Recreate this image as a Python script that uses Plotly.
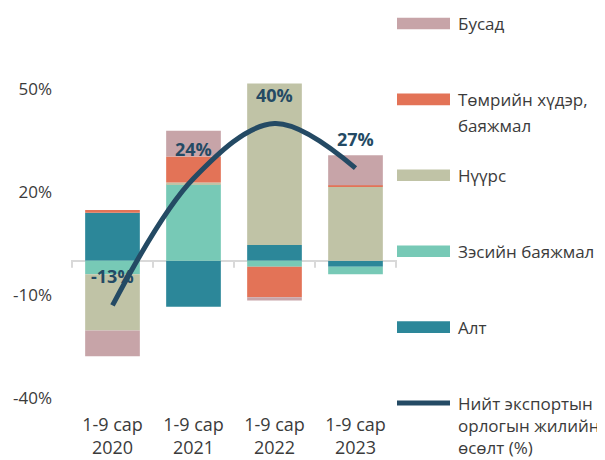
import plotly.graph_objects as go

# ---------------- data ----------------
categories = ["1-9 сар<br>2020", "1-9 сар<br>2021", "1-9 сар<br>2022", "1-9 сар<br>2023"]
alt = [14.0, -13.4, 4.6, -1.7]          # Алт
zes = [-3.9, 22.3, -1.7, -2.2]          # Зэсийн баяжмал
nuurs = [-16.4, 0.5, 47.1, 21.6]        # Нүүрс
tomor = [0.8, 7.6, -8.9, 0.4]           # Төмрийн хүдэр, баяжмал
busad = [-7.5, 7.5, -1.0, 8.8]          # Бусад
growth = [-13, 24, 40, 27]              # Нийт экспортын орлогын жилийн өсөлт (%)
growth_labels = ["-13%", "24%", "40%", "27%"]

bar_names = ["Алт", "Зэсийн баяжмал", "Нүүрс", "Төмрийн хүдэр, баяжмал", "Бусад"]
bar_values = [alt, zes, nuurs, tomor, busad]
bar_colors = ["#2c8799", "#77c9b6", "#c0c3a6", "#e37357", "#c7a4a8"]
line_name = "Нийт экспортын орлогын жилийн өсөлт (%)"
line_color = "#244a64"

legend_items = [
    ("Бусад", "#c7a4a8", "bar"),
    ("Төмрийн хүдэр,\nбаяжмал", "#e37357", "bar"),
    ("Нүүрс", "#c0c3a6", "bar"),
    ("Зэсийн баяжмал", "#77c9b6", "bar"),
    ("Алт", "#2c8799", "bar"),
    ("Нийт экспортын\nорлогын жилийн\nөсөлт (%)", line_color, "line"),
]

y_ticks = [-40, -10, 20, 50]
y_tick_text = ["-40%", "-10%", "20%", "50%"]
y_range = [-40, 60]

# ---------------- layout constants (pixels) ----------------
OFF = 8                      # page body margin of the browser
W, H = 605 - OFF, 460 - OFF
ML, MT = 71 - OFF, 55 - OFF
PW, PH = 326, 343
MR = W - ML - PW
MB = H - MT - PH
FONT = "Open Sans"
TEXT_COLOR = "#3b3b3b"


def px_x(px):
    """screen pixel x -> paper coordinate"""
    return (px - OFF - ML) / PW


def px_y(py):
    """screen pixel y -> paper coordinate"""
    return (MT + PH - (py - OFF)) / PH


fig = go.Figure()
for name, vals, col in zip(bar_names, bar_values, bar_colors):
    fig.add_trace(go.Bar(x=categories, y=vals, name=name, marker_color=col,
                         marker_line_width=0, showlegend=False))

fig.add_trace(go.Scatter(x=categories, y=growth, name=line_name, mode="lines",
                         line=dict(color=line_color, width=5, shape="spline", smoothing=1.0),
                         showlegend=False))

annotations = []
for c, v, t in zip(categories, growth, growth_labels):
    annotations.append(dict(x=c, y=v, text="<b>%s</b>" % t, showarrow=False, yshift=29,
                            font=dict(family=FONT, size=18, color=line_color)))

shapes = []
# small tick marks along the zero line between categories
for i in range(len(categories) + 1):
    shapes.append(dict(type="line", xref="x", yref="y", x0=i - 0.5, x1=i - 0.5,
                       ysizemode="pixel", yanchor=0, y0=0, y1=-7,
                       line=dict(color="#d9d9d9", width=2), layer="below"))

# custom legend
y0_px, step_px = 23.5, 75.9
for i, (label, col, kind) in enumerate(legend_items):
    cy = y0_px + step_px * i
    line_px = 26 if kind == "bar" else 22
    if kind == "bar":
        shapes.append(dict(type="rect", xref="paper", yref="paper",
                           x0=px_x(397), x1=px_x(450), y0=px_y(cy + 5.8), y1=px_y(cy - 5.8),
                           fillcolor=col, line_width=0))
    else:
        shapes.append(dict(type="line", xref="paper", yref="paper",
                           x0=px_x(397), x1=px_x(450), y0=px_y(cy), y1=px_y(cy),
                           line=dict(color=col, width=5)))
    for j, part in enumerate(label.split("\n")):
        annotations.append(dict(xref="paper", yref="paper", x=px_x(456), y=px_y(cy + j * line_px),
                                xanchor="left", yanchor="middle", text=part, showarrow=False,
                                font=dict(family=FONT, size=17, color=TEXT_COLOR)))

fig.update_layout(
    width=W, height=H,
    margin=dict(l=ML, r=MR, t=MT, b=MB),
    barmode="relative", bargap=0.325,
    plot_bgcolor="white", paper_bgcolor="white",
    font=dict(family=FONT, size=17, color=TEXT_COLOR),
    showlegend=False,
    annotations=annotations, shapes=shapes,
    xaxis=dict(showgrid=False, showline=False, ticks="", ticklabelstandoff=14,
               automargin=False,
               tickfont=dict(family=FONT, size=18, color=TEXT_COLOR)),
    yaxis=dict(range=y_range, tickvals=y_ticks, ticktext=y_tick_text, showgrid=False,
               showline=False, ticks="", ticklabelstandoff=18, automargin=False,
               zeroline=True, zerolinecolor="#d9d9d9", zerolinewidth=2,
               tickfont=dict(family=FONT, size=17, color=TEXT_COLOR)),
)

fig.write_html("out.html")
